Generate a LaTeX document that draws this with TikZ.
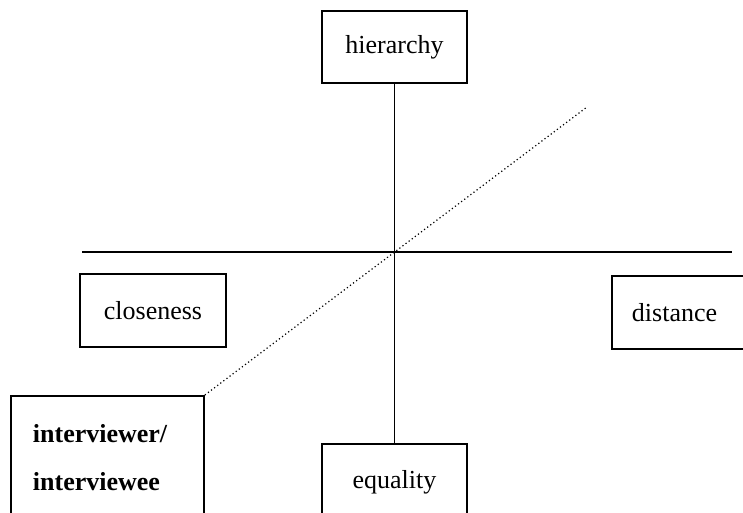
\documentclass[tikz,border=0pt]{standalone}
\usepackage{fontspec}
\setmainfont{Liberation Serif}
\begin{document}
\begin{tikzpicture}[x=0.75pt,y=-0.75pt,
  box/.style={draw,line width=1.4pt,rectangle,inner sep=0pt,font=\fontsize{19.5}{36}\selectfont},
  haxis/.style={line width=1.3pt},
  vaxis/.style={line width=0.9pt},
  diag/.style={dotted,line width=0.9pt}]
\useasboundingbox (0,0) rectangle (743,512);
\clip (0,0) rectangle (743,512);
\node[box,minimum width=145*0.75pt,minimum height=72*0.75pt] (hier) at (394.5,47) {hierarchy};
\node[box,minimum width=145*0.75pt,minimum height=76*0.75pt,anchor=north] (equal) at (394.5,443) {equality};
\node[box,minimum width=146*0.75pt,minimum height=73*0.75pt] (close) at (153,310.5) {closeness};
\node[box,anchor=north west,minimum height=73*0.75pt,text width=110*0.75pt,inner xsep=20*0.75pt,align=left] (dist) at (611,275) {distance};
\node[box,anchor=north west,minimum height=124*0.75pt,text width=149*0.75pt,inner xsep=22*0.75pt,align=left,font=\fontsize{19.5}{36}\selectfont\bfseries] (iv) at (10,395) {interviewer/\\interviewee};
\coordinate (hl) at (82,252);
\coordinate (hr) at (732,252);
\coordinate (dend) at (587,107);
\draw[haxis] (hl) -- (hr);
\draw[vaxis] (hier.south) -- (equal.north);
\draw[diag] (iv.north east) -- (dend);
\end{tikzpicture}
\end{document}
